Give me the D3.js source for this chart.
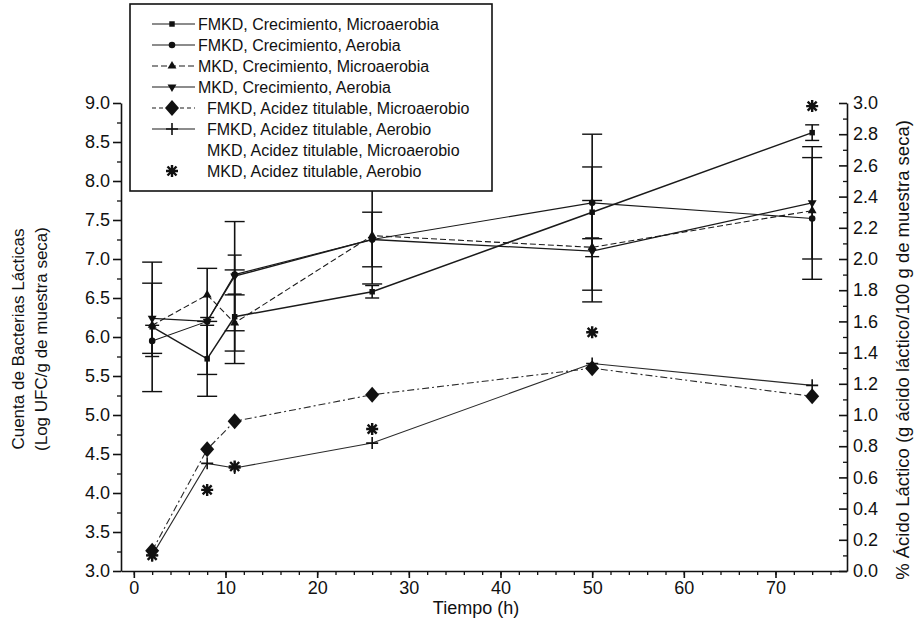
<!DOCTYPE html>
<html><head><meta charset="utf-8">
<script src="https://cdn.jsdelivr.net/npm/d3@7"></script>
<style>body{margin:0;background:#fff}svg{display:block}</style>
</head><body>
<svg id="c" width="916" height="619"></svg>
<script>
// ---------- data ----------
const timeH = [2, 8, 11, 26, 50, 74];

const growthFMKDMicro    = [6.13, 5.72, 6.26, 6.58, 7.60, 8.62];
const growthFMKDMicroErr = [0.83, 0.48, 0.60, 0.08, 1.00, 0.10];
const growthFMKDAer      = [5.95, 6.20, 6.80, 7.25, 7.72, 7.52];
const growthFMKDAerErr   = [0.20, 0.05, 0.25, 0.35, 0.46, 0.78];
const growthMKDMicro     = [6.15, 6.54, 6.18, 7.30, 7.15, 7.62];
const growthMKDMicroErr  = [0.02, 0.02, 0.36, 0.62, 0.12, 0.02];
const growthMKDAer       = [6.24, 6.20, 6.78, 7.25, 7.10, 7.72];
const growthMKDAerErr    = [0.45, 0.68, 0.70, 0.02, 0.65, 0.72];

const acidFMKDMicro = [0.13, 0.78, 0.96, 1.13, 1.30, 1.12];
const acidFMKDAer   = [0.10, 0.69, 0.66, 0.82, 1.33, 1.19];
const acidMKDAer    = [0.10, 0.52, 0.67, 0.91, 1.53, 2.98];

const legendLabels = [
  "FMKD, Crecimiento, Microaerobia",
  "FMKD, Crecimiento,  Aerobia",
  "MKD, Crecimiento, Microaerobia",
  "MKD, Crecimiento, Aerobia",
  "FMKD, Acidez titulable, Microaerobio",
  "FMKD, Acidez titulable, Aerobio",
  "MKD, Acidez titulable, Microaerobio",
  "MKD, Acidez titulable, Aerobio"
];

const xTickValues = [0, 10, 20, 30, 40, 50, 60, 70];
const leftTickValues = [3.0, 3.5, 4.0, 4.5, 5.0, 5.5, 6.0, 6.5, 7.0, 7.5, 8.0, 8.5, 9.0];
const rightTickValues = [0.0, 0.2, 0.4, 0.6, 0.8, 1.0, 1.2, 1.4, 1.6, 1.8, 2.0, 2.2, 2.4, 2.6, 2.8, 3.0];

const xTitle = "Tiempo (h)";
const leftTitle1 = "Cuenta de Bacterias Lácticas";
const leftTitle2 = "(Log UFC/g de muestra seca)";
const rightTitle = "% Ácido Láctico (g ácido láctico/100 g de muestra seca)";

// ---------- layout ----------
const svg = d3.select("#c");
const FONT = "'Liberation Sans', Arial, Helvetica, sans-serif";
const NARROW = "'Liberation Sans Narrow', 'Liberation Sans', Arial, sans-serif";
const x = d3.scaleLinear().domain([-1.4, 77.8]).range([121, 847]);
const yL = d3.scaleLinear().domain([3, 9]).range([571, 103]);
const yR = d3.scaleLinear().domain([0, 3]).range([571, 103]);

// symbols
const sym = {
  square: d3.symbol().type(d3.symbolSquare).size(30)(),
  circle: d3.symbol().type(d3.symbolCircle).size(34)(),
  tri: d3.symbol().type(d3.symbolTriangle).size(34)(),
  diamond: "M0,-8L7,0L0,8L-7,0Z",
  plus: "M-6,0H6M0,-6V6",
  star: "M-6,0H6M0,-6V6M-4.5,-4.5L4.5,4.5M-4.5,4.5L4.5,-4.5"
};

const growth = [
  {v: growthFMKDMicro, e: growthFMKDMicroErr, s: "square", dash: null, w: 1.5},
  {v: growthFMKDAer, e: growthFMKDAerErr, s: "circle", dash: null, w: 1.1},
  {v: growthMKDMicro, e: growthMKDMicroErr, s: "tri", dash: "6,3", w: 1.1},
  {v: growthMKDAer, e: growthMKDAerErr, s: "tridown", dash: null, w: 1.3}
];
const acid = [
  {v: acidFMKDMicro, s: "diamond", dash: "7,3,2,3", w: 1.1, line: true},
  {v: acidFMKDAer, s: "plus", dash: null, w: 1.1, line: true},
  {v: acidMKDAer, s: "star", dash: null, w: 1.1, line: false}
];

function drawSym(g, type, cx, cy) {
  if (type === "tridown") {
    g.append("path").attr("d", sym.tri).attr("transform", `translate(${cx},${cy}) rotate(180)`).attr("fill", "#111");
  } else if (type === "plus") {
    g.append("path").attr("d", sym.plus).attr("transform", `translate(${cx},${cy})`).attr("stroke", "#111").attr("stroke-width", 1.6).attr("fill", "none");
  } else if (type === "star") {
    g.append("path").attr("d", sym.star).attr("transform", `translate(${cx},${cy})`).attr("stroke", "#111").attr("stroke-width", 2.4).attr("fill", "none");
  } else {
    g.append("path").attr("d", sym[type]).attr("transform", `translate(${cx},${cy})`).attr("fill", "#111");
  }
}

// ---------- axes ----------
const xMinor = d3.range(0, 78, 2);
svg.append("g").attr("transform", "translate(0,571)")
  .call(d3.axisBottom(x).tickValues(xMinor).tickSize(4).tickFormat("").tickSizeOuter(0))
  .call(g => g.select(".domain").remove())
  .selectAll("line").attr("stroke", "#111").attr("stroke-width", 1.3);
svg.append("g").attr("transform", "translate(0,571)")
  .call(d3.axisBottom(x).tickValues(xTickValues).tickSize(7).tickSizeOuter(0).tickFormat(d3.format("d")).tickPadding(3))
  .call(g => g.select(".domain").attr("stroke", "#111").attr("stroke-width", 1.6))
  .call(g => g.selectAll("line").attr("stroke", "#111").attr("stroke-width", 1.6))
  .call(g => g.selectAll("text").attr("font-family", NARROW).attr("font-size", 18).attr("fill", "#111"));

const leftMinor = d3.range(3.25, 9, 0.5);
svg.append("g").attr("transform", "translate(121,0)")
  .call(d3.axisLeft(yL).tickValues(leftMinor).tickSize(4).tickFormat("").tickSizeOuter(0))
  .call(g => g.select(".domain").remove())
  .selectAll("line").attr("stroke", "#111").attr("stroke-width", 1.3);
svg.append("g").attr("transform", "translate(121,0)")
  .call(d3.axisLeft(yL).tickValues(leftTickValues).tickSize(8).tickSizeOuter(0).tickFormat(d3.format(".1f")).tickPadding(3))
  .call(g => g.select(".domain").attr("stroke", "#111").attr("stroke-width", 1.6))
  .call(g => g.selectAll("line").attr("stroke", "#111").attr("stroke-width", 1.6))
  .call(g => g.selectAll("text").attr("font-family", FONT).attr("font-size", 18).attr("fill", "#111"));

const rightMinor = d3.range(0.1, 3, 0.2);
svg.append("g").attr("transform", "translate(847,0)")
  .call(d3.axisRight(yR).tickValues(rightMinor).tickSize(-4).tickFormat("").tickSizeOuter(0))
  .call(g => g.select(".domain").remove())
  .selectAll("line").attr("stroke", "#111").attr("stroke-width", 1.3);
svg.append("g").attr("transform", "translate(847,0)")
  .call(d3.axisRight(yR).tickValues(rightTickValues).tickSize(-8).tickSizeOuter(0).tickFormat(d3.format(".1f")).tickPadding(6))
  .call(g => g.select(".domain").attr("stroke", "#111").attr("stroke-width", 1.6))
  .call(g => g.selectAll("line").attr("stroke", "#111").attr("stroke-width", 1.6))
  .call(g => g.selectAll("text").attr("font-family", FONT).attr("font-size", 18).attr("fill", "#111"));

// titles
svg.append("text").attr("x", 476).attr("y", 614).attr("text-anchor", "middle")
  .attr("font-family", NARROW).attr("font-size", 18).attr("fill", "#111").text(xTitle);
svg.append("text").attr("transform", "translate(24,339) rotate(-90)").attr("text-anchor", "middle")
  .attr("font-family", FONT).attr("font-size", 17).attr("fill", "#111").text(leftTitle1);
svg.append("text").attr("transform", "translate(47,339) rotate(-90)").attr("text-anchor", "middle")
  .attr("font-family", FONT).attr("font-size", 17).attr("fill", "#111").text(leftTitle2);
svg.append("text").attr("transform", "translate(909,350) rotate(-90)").attr("text-anchor", "middle")
  .attr("font-family", FONT).attr("font-size", 18.5).attr("fill", "#111").text(rightTitle);

// ---------- data marks ----------
const plot = svg.append("g");

// error bars
growth.forEach(s => {
  s.v.forEach((v, i) => {
    const e = s.e[i];
    if (e < 0.04) return;
    const cx = x(timeH[i]);
    const capW = e > 0.3 ? 10 : 7;
    plot.append("line").attr("x1", cx).attr("x2", cx).attr("y1", yL(v + e)).attr("y2", yL(v - e))
      .attr("stroke", "#111").attr("stroke-width", 1.6);
    [v + e, v - e].forEach(yy => plot.append("line").attr("x1", cx - capW).attr("x2", cx + capW)
      .attr("y1", yL(yy)).attr("y2", yL(yy)).attr("stroke", "#111").attr("stroke-width", 1.4));
  });
});

// growth lines
growth.forEach(s => {
  const line = d3.line().x((d, i) => x(timeH[i])).y(d => yL(d));
  plot.append("path").attr("d", line(s.v)).attr("fill", "none").attr("stroke", "#1a1a1a")
    .attr("stroke-width", s.w).attr("stroke-dasharray", s.dash);
});
// acid lines
acid.filter(s => s.line).forEach(s => {
  const line = d3.line().x((d, i) => x(timeH[i])).y(d => yR(d));
  plot.append("path").attr("d", line(s.v)).attr("fill", "none").attr("stroke", "#2a2a2a")
    .attr("stroke-width", s.w).attr("stroke-dasharray", s.dash);
});
// markers
growth.forEach(s => s.v.forEach((v, i) => drawSym(plot, s.s, x(timeH[i]), yL(v))));
acid.forEach(s => s.v.forEach((v, i) => drawSym(plot, s.s, x(timeH[i]), yR(v))));

// ---------- legend ----------
const lg = svg.append("g");
lg.append("rect").attr("x", 130).attr("y", 4).attr("width", 362).attr("height", 187)
  .attr("fill", "#fff").attr("stroke", "#111").attr("stroke-width", 1.6);
const legendStyle = [
  {s: "square", dash: null}, {s: "circle", dash: null}, {s: "tri", dash: "6,3"}, {s: "tridown", dash: null},
  {s: "diamond", dash: "4,3"}, {s: "plus", dash: null}, {s: null, dash: null}, {s: "star", dash: null}
];
legendLabels.forEach((lab, i) => {
  const yy = 24 + i * 21;
  const st = legendStyle[i];
  if (st.s && st.s !== "star") {
    lg.append("line").attr("x1", 152).attr("x2", 195).attr("y1", yy).attr("y2", yy)
      .attr("stroke", "#1a1a1a").attr("stroke-width", 1.2).attr("stroke-dasharray", st.dash);
  }
  if (st.s) drawSym(lg, st.s, 172, yy);
  lg.append("text").attr("x", i < 4 ? 198 : 207).attr("y", yy + 5.5)
    .attr("font-family", FONT).attr("font-size", 16).attr("fill", "#111").text(lab);
});
</script>
</body></html>
